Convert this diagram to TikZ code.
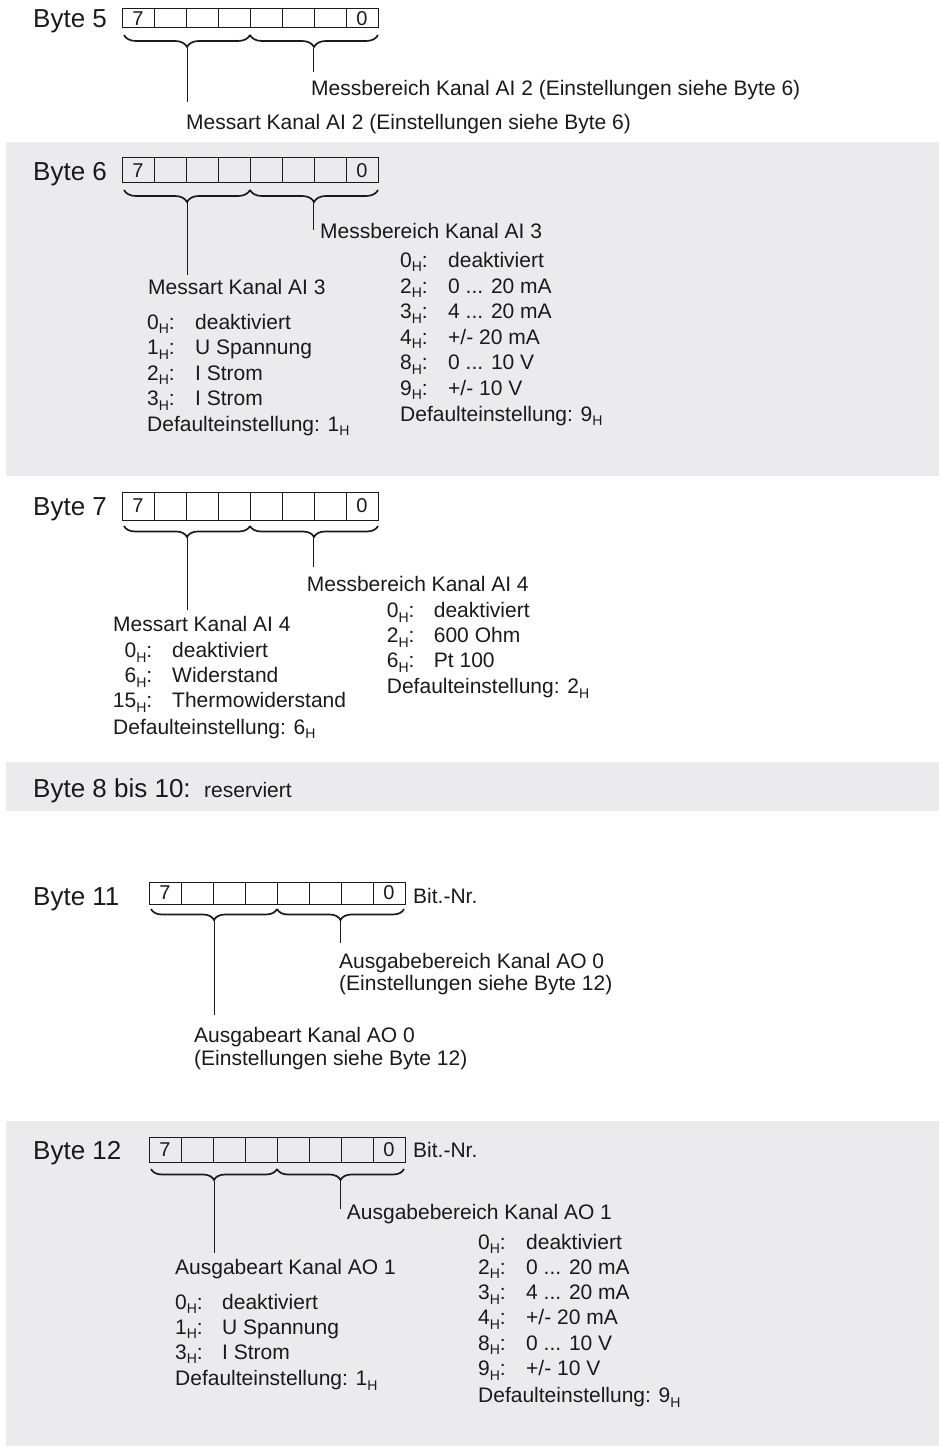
\documentclass[tikz,border=0pt]{standalone}
\usepackage{fontspec}
\setmainfont{Liberation Sans}
\usetikzlibrary{decorations.pathreplacing}
\definecolor{band}{HTML}{EBEBED}
\definecolor{ink}{HTML}{1A1A1A}
\newcommand\hsub{\raisebox{-4.5pt}{\fontsize{14}{14}\selectfont H}}
\newcommand\kv[2]{\makebox[48pt][l]{#1\hsub:}#2}
\newcommand\kvn[2]{\makebox[47pt][l]{#1\hsub:}#2}
\newcommand\kvr[2]{\makebox[39pt][r]{#1\hsub:}\hspace{20pt}#2}
\newcommand\register[4]{% name, left x, top y, bottom y
  \draw[cellbox] (#2,#3) rectangle ({#2+256},#4);
  \foreach \i in {1,...,7} \draw[cellbox] ({#2+32*\i},#3) -- ({#2+32*\i},#4);
  \node[dig] (#1seven) at ({#2+16},{(#3+#4)/2}) {7};
  \node[dig] (#1zero) at ({#2+240},{(#3+#4)/2}) {0};
}
\begin{document}
\begin{tikzpicture}[x=1pt,y=-1pt,
  txt/.style={inner sep=0pt, anchor=base west, font=\fontsize{21}{25}\selectfont, text=ink},
  lbl/.style={inner sep=0pt, anchor=base west, font=\fontsize{26}{30}\selectfont, text=ink},
  dig/.style={inner sep=0pt, font=\fontsize{20}{20}\selectfont, text=ink},
  cellbox/.style={draw=ink, line width=1pt},
  brc/.style={decorate, decoration={brace, mirror, amplitude=#1}, line width=1.7pt, draw=ink},
  lead/.style={draw=ink, line width=1pt},
  bandfill/.style={fill=band, draw=none}]
\useasboundingbox (0,0) rectangle (939,1455);
% grey bands
\path[bandfill] (6,142) rectangle (939,476);
\path[bandfill] (6,762) rectangle (939,811);
\path[bandfill] (6,1121) rectangle (939,1446);

% ---------------- Byte 5
\node[lbl] (b5) at (33,27.5) {Byte 5};
\register{r5}{122}{9}{28}
\draw[brc=12pt] (124,35) -- (250,35);
\draw[brc=12pt] (250,35) -- (378,35);
\coordinate (t5a) at (187,48); \coordinate (e5a) at (187,102);
\coordinate (t5b) at (313,48); \coordinate (e5b) at (313,72);
\draw[lead] (t5a) -- (e5a);
\draw[lead] (t5b) -- (e5b);
\node[txt] (m5b) at (311,95.5) {Messbereich Kanal AI 2 (Einstellungen siehe Byte 6)};
\node[txt] (m5a) at (186,129.5) {Messart Kanal AI 2 (Einstellungen siehe Byte 6)};

% ---------------- Byte 6
\node[lbl] (b6) at (33,181) {Byte 6};
\register{r6}{122}{158}{182.5}
\draw[brc=12pt] (124,190) -- (250,190);
\draw[brc=12pt] (250,190) -- (378,190);
\coordinate (t6a) at (187,202); \coordinate (e6a) at (187,275);
\coordinate (t6b) at (313,202); \coordinate (e6b) at (313,230);
\draw[lead] (t6a) -- (e6a);
\draw[lead] (t6b) -- (e6b);
\node[txt] (m6b) at (320,239) {Messbereich Kanal AI 3};
\foreach \k/\v [count=\n from 0] in {0/deaktiviert, 2/{0 ... 20 mA}, 3/{4 ... 20 mA}, 4/{+/- 20 mA}, 8/{0 ... 10 V}, 9/{+/- 10 V}}
  \node[txt] (l6b\n) at (400,{267.5+25.5*\n}) {\kv{\k}{\v}};
\node[txt] (d6b) at (400,421) {Defaulteinstellung: 9\hsub};
\node[txt] (m6a) at (148,294) {Messart Kanal AI 3};
\foreach \k/\v [count=\n from 0] in {0/deaktiviert, 1/U Spannung, 2/I Strom, 3/I Strom}
  \node[txt] (l6a\n) at (147,{329+25.5*\n}) {\kv{\k}{\v}};
\node[txt] (d6a) at (147,431) {Defaulteinstellung: 1\hsub};

% ---------------- Byte 7
\node[lbl] (b7) at (33,515) {Byte 7};
\register{r7}{122}{492}{520}
\draw[brc=11pt] (124,526) -- (250,526);
\draw[brc=11pt] (250,526) -- (378,526);
\coordinate (t7a) at (187,537); \coordinate (e7a) at (187,610);
\coordinate (t7b) at (313,537); \coordinate (e7b) at (313,567);
\draw[lead] (t7a) -- (e7a);
\draw[lead] (t7b) -- (e7b);
\node[txt] (m7b) at (306.7,591) {Messbereich Kanal AI 4};
\foreach \k/\v [count=\n from 0] in {0/deaktiviert, 2/600 Ohm, 6/Pt 100}
  \node[txt] (l7b\n) at (386.7,{617.5+25*\n}) {\kvn{\k}{\v}};
\node[txt] (d7b) at (386.7,693.5) {Defaulteinstellung: 2\hsub};
\node[txt] (m7a) at (113,631) {Messart Kanal AI 4};
\foreach \k/\v [count=\n from 0] in {0/deaktiviert, 6/Widerstand, 15/Thermowiderstand}
  \node[txt] (l7a\n) at (113,{657.5+25*\n}) {\kvr{\k}{\v}};
\node[txt] (d7a) at (113,734) {Defaulteinstellung: 6\hsub};

% ---------------- Byte 8 bis 10
\node[lbl] (b8) at (33,797) {Byte 8 bis 10:};
\node[txt] (res) at (204,797) {reserviert};

% ---------------- Byte 11
\node[lbl] (b11) at (33,905) {Byte 11};
\register{r11}{149}{882}{904}
\node[txt] (bn11) at (413,903.5) {Bit.-Nr.};
\draw[brc=11pt] (151,909) -- (277,909);
\draw[brc=11pt] (277,909) -- (404,909);
\coordinate (t11a) at (214,920); \coordinate (e11a) at (214,1015);
\coordinate (t11b) at (340,920); \coordinate (e11b) at (340,943);
\draw[lead] (t11a) -- (e11a);
\draw[lead] (t11b) -- (e11b);
\node[txt] (m11b) at (339,968) {Ausgabebereich Kanal AO 0};
\node[txt] (m11c) at (339,990) {(Einstellungen siehe Byte 12)};
\node[txt] (m11a) at (194,1042) {Ausgabeart Kanal AO 0};
\node[txt] (m11d) at (194,1065) {(Einstellungen siehe Byte 12)};

% ---------------- Byte 12
\node[lbl] (b12) at (33,1159) {Byte 12};
\register{r12}{149}{1137}{1162}
\node[txt] (bn12) at (413,1157.5) {Bit.-Nr.};
\draw[brc=11pt] (151,1169) -- (277,1169);
\draw[brc=11pt] (277,1169) -- (404,1169);
\coordinate (t12a) at (214,1181); \coordinate (e12a) at (214,1253);
\coordinate (t12b) at (340,1181); \coordinate (e12b) at (340,1209);
\draw[lead] (t12a) -- (e12a);
\draw[lead] (t12b) -- (e12b);
\node[txt] (m12b) at (346.7,1219) {Ausgabebereich Kanal AO 1};
\foreach \k/\v [count=\n from 0] in {0/deaktiviert, 2/{0 ... 20 mA}, 3/{4 ... 20 mA}, 4/{+/- 20 mA}, 8/{0 ... 10 V}, 9/{+/- 10 V}}
  \node[txt] (l12b\n) at (478,{1249+25.3*\n}) {\kv{\k}{\v}};
\node[txt] (d12b) at (478,1402.5) {Defaulteinstellung: 9\hsub};
\node[txt] (m12a) at (175,1274) {Ausgabeart Kanal AO 1};
\foreach \k/\v [count=\n from 0] in {0/deaktiviert, 1/U Spannung, 3/I Strom}
  \node[txt] (l12a\n) at (175,{1309+25*\n}) {\kvn{\k}{\v}};
\node[txt] (d12a) at (175,1385.5) {Defaulteinstellung: 1\hsub};
\end{tikzpicture}
\end{document}
